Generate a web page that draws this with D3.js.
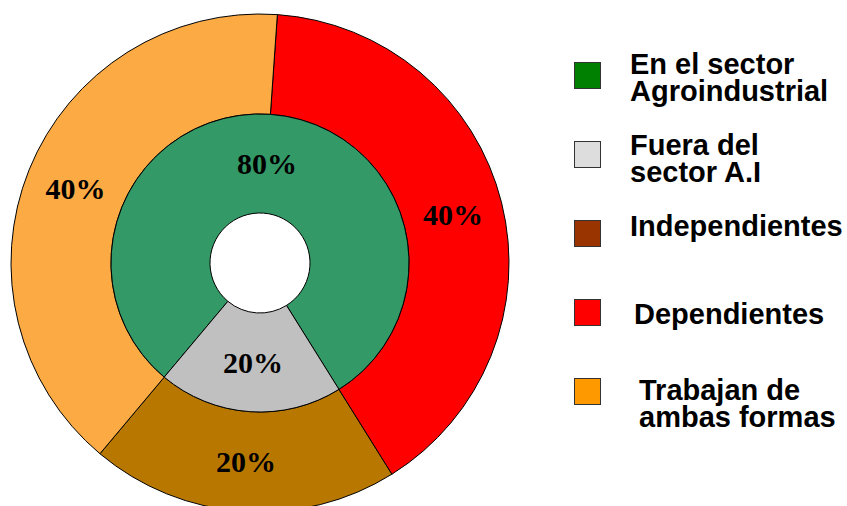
<!DOCTYPE html>
<html>
<head>
<meta charset="utf-8">
<script src="https://cdn.jsdelivr.net/npm/d3@7"></script>
<style>
  html, body { margin: 0; padding: 0; background: #ffffff; }
  svg { display: block; }
</style>
</head>
<body>
<svg id="chart" width="847" height="506"></svg>
<script>
// ---- data ----
const innerCategories = ["En el sector Agroindustrial", "Fuera del sector A.I"];
const innerValues = [80, 20];
const outerCategories = ["Independientes", "Dependientes", "Trabajan de ambas formas"];
const outerValues = [20, 40, 40];
const innerLabels = ["80%", "20%"];
const outerLabels = ["20%", "40%", "40%"];
// legend order and text
const legendCategories = ["En el sector Agroindustrial", "Fuera del sector A.I", "Independientes", "Dependientes", "Trabajan de ambas formas"];
const legendLines = [["En el sector", "Agroindustrial"], ["Fuera del", "sector A.I"], ["Independientes"], ["Dependientes"], ["Trabajan de", "ambas formas"]];

// ---- styles ----
const sliceColors = {
  "En el sector Agroindustrial": "#339966",
  "Fuera del sector A.I": "#c0c0c0",
  "Independientes": "#b87800",
  "Dependientes": "#ff0000",
  "Trabajan de ambas formas": "#fbaa44"
};
const legendColors = {
  "En el sector Agroindustrial": "#008000",
  "Fuera del sector A.I": "#dddddd",
  "Independientes": "#993300",
  "Dependientes": "#ff0000",
  "Trabajan de ambas formas": "#ff9900"
};
// outer drawing order clockwise from start angle
const outerDrawOrder = ["Dependientes", "Independientes", "Trabajan de ambas formas"];

const cx = 260, cy = 263;
const rHole = 50, rMid = 149, rOuter = 249;
const deg = Math.PI / 180;

const svg = d3.select("#chart");
const g = svg.append("g").attr("transform", `translate(${cx},${cy})`);

// inner ring
const innerData = innerCategories.map((c, i) => ({ name: c, value: innerValues[i], label: innerLabels[i] }));
const innerPie = d3.pie().value(d => d.value).sort(null)
  .startAngle(220 * deg).endAngle(580 * deg);
const innerArc = d3.arc().innerRadius(rHole).outerRadius(rMid);

// outer ring
const outerData = outerCategories.map((c, i) => ({ name: c, value: outerValues[i], label: outerLabels[i] }));
const outerPie = d3.pie().value(d => d.value)
  .sort((a, b) => outerDrawOrder.indexOf(a.name) - outerDrawOrder.indexOf(b.name))
  .startAngle(4 * deg).endAngle(364 * deg);
const outerArc = d3.arc().innerRadius(rMid).outerRadius(rOuter);

const outerArcs = outerPie(outerData);
const innerArcs = innerPie(innerData);

g.selectAll("path.outer").data(outerArcs).enter().append("path")
  .attr("class", "outer")
  .attr("d", outerArc)
  .attr("fill", d => sliceColors[d.data.name])
  .attr("stroke", "#000").attr("stroke-width", 1).attr("stroke-linejoin", "round");

g.selectAll("path.inner").data(innerArcs).enter().append("path")
  .attr("class", "inner")
  .attr("d", innerArc)
  .attr("fill", d => sliceColors[d.data.name])
  .attr("stroke", "#000").attr("stroke-width", 1).attr("stroke-linejoin", "round");

const labelFont = "'Liberation Serif','Times New Roman',serif";
g.selectAll("text.outerLabel").data(outerArcs).enter().append("text")
  .attr("class", "outerLabel")
  .attr("transform", d => `translate(${outerArc.centroid(d)})`)
  .attr("text-anchor", "middle").attr("dy", "0.35em")
  .attr("font-family", labelFont).attr("font-weight", "bold").attr("font-size", 30)
  .attr("fill", "#000")
  .text(d => d.data.label);

g.selectAll("text.innerLabel").data(innerArcs).enter().append("text")
  .attr("class", "innerLabel")
  .attr("transform", d => `translate(${innerArc.centroid(d)})`)
  .attr("text-anchor", "middle").attr("dy", "0.35em")
  .attr("font-family", labelFont).attr("font-weight", "bold").attr("font-size", 30)
  .attr("fill", "#000")
  .text(d => d.data.label);

// ---- legend ----
const legendBoxX = 574.5, legendBoxSize = 26;
const legendBoxY = [62, 141, 220, 299, 378];
const legendTextX = [630, 630, 630, 634, 639];
const legendFirstBaseline = [74, 155, 236, 324, 400];
const legendLineHeight = 27;

const legend = svg.append("g");
legendCategories.forEach((c, i) => {
  legend.append("rect")
    .attr("x", legendBoxX).attr("y", legendBoxY[i] + 0.5)
    .attr("width", legendBoxSize).attr("height", legendBoxSize)
    .attr("fill", legendColors[c]).attr("stroke", "#333").attr("stroke-width", 1);
  const t = legend.append("text")
    .attr("font-family", "'Liberation Sans', Arial, sans-serif")
    .attr("font-weight", "bold").attr("font-size", 29).attr("fill", "#000");
  legendLines[i].forEach((line, j) => {
    t.append("tspan").attr("x", legendTextX[i])
      .attr("y", legendFirstBaseline[i] + j * legendLineHeight)
      .text(line);
  });
});
</script>
</body>
</html>
